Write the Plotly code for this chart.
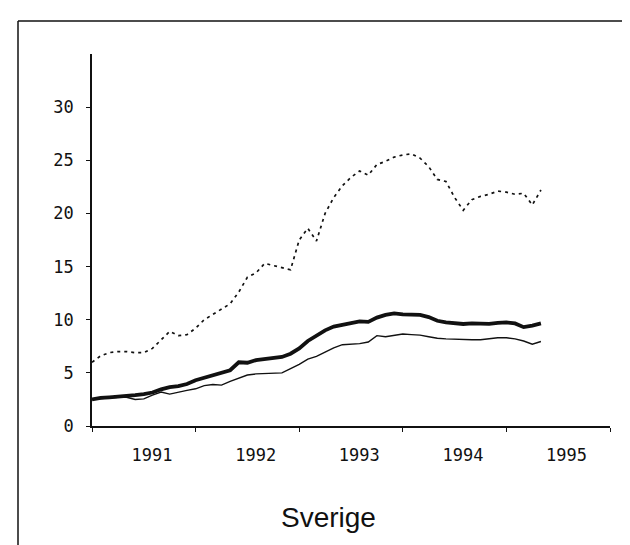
import plotly.graph_objects as go

# Monthly observations, Jan 1991 .. May 1995 (months counted from start)
months = list(range(53))
thick_series = [2.5, 2.65, 2.7, 2.75, 2.85, 2.9, 3.0, 3.15, 3.45, 3.65, 3.75, 3.95,
                4.3, 4.55, 4.8, 5.0, 5.25, 6.0, 5.95, 6.2, 6.3, 6.4, 6.5, 6.8,
                7.3, 8.0, 8.5, 9.0, 9.35, 9.5, 9.7, 9.85, 9.8, 10.2, 10.45, 10.6,
                10.5, 10.45, 10.45, 10.25, 9.9, 9.75, 9.65, 9.6, 9.65, 9.65, 9.6, 9.7,
                9.75, 9.65, 9.3, 9.45, 9.65]
thin_series = [2.5, 2.6, 2.65, 2.7, 2.7, 2.5, 2.55, 2.9, 3.2, 3.0, 3.2, 3.35,
               3.5, 3.8, 3.9, 3.85, 4.2, 4.5, 4.8, 4.9, 4.95, 4.95, 5.0, 5.4,
               5.8, 6.3, 6.55, 6.95, 7.35, 7.65, 7.7, 7.75, 7.9, 8.5, 8.4, 8.5,
               8.65, 8.6, 8.55, 8.4, 8.25, 8.2, 8.15, 8.1, 8.12, 8.12, 8.2, 8.3,
               8.3, 8.2, 8.0, 7.7, 7.95]
dotted_series = [6.0, 6.6, 6.9, 7.0, 7.0, 6.9, 6.9, 7.3, 8.1, 8.9, 8.5, 8.6,
                 9.2, 10.0, 10.5, 11.0, 11.5, 12.6, 14.0, 14.4, 15.3, 15.1, 14.9, 14.7,
                 17.5, 18.6, 17.4, 20.0, 21.5, 22.6, 23.4, 24.0, 23.6, 24.6, 24.9, 25.3,
                 25.5, 25.6, 25.2, 24.4, 23.2, 23.0, 21.5, 20.3, 21.3, 21.6, 21.8, 22.1,
                 22.0, 21.8, 21.9, 20.8, 22.2]
start_year = 1991
year_labels = ["1991", "1992", "1993", "1994", "1995"]
y_ticks = [0, 5, 10, 15, 20, 25, 30]
title_text = "Sverige"

x = [start_year + m / 12 for m in months]
years = [start_year + i for i in range(len(year_labels))]

fig = go.Figure()
fig.add_trace(go.Scatter(x=x, y=dotted_series, mode="lines",
                         line=dict(color="#111", width=1.7, dash="3px,4px"), showlegend=False))
fig.add_trace(go.Scatter(x=x, y=thin_series, mode="lines",
                         line=dict(color="#111", width=1.4), showlegend=False))
fig.add_trace(go.Scatter(x=x, y=thick_series, mode="lines",
                         line=dict(color="#111", width=3.8), showlegend=False))

tick_font = dict(family="DejaVu Sans Mono", size=17, color="#111")

# plot area: x 84..602 px, y 46..418 px
fig.update_layout(
    width=630, height=545, autosize=False,
    margin=dict(l=84, r=28, t=46, b=127),
    paper_bgcolor="white", plot_bgcolor="white",
    xaxis=dict(range=[years[0], years[-1] + 1],
               tickvals=[yv + 0.58 for yv in years], ticktext=year_labels,
               ticks="", showgrid=False, zeroline=False,
               showline=True, linecolor="#111", linewidth=1.5,
               tickfont=tick_font, ticklabelstandoff=13,
               minor=dict(tickvals=years + [years[-1] + 1], ticks="outside",
                          ticklen=4, tickcolor="#111", tickwidth=1.3, showgrid=False)),
    yaxis=dict(range=[0, 35], tickvals=y_ticks,
               ticktext=[str(v) for v in y_ticks],
               ticks="outside", ticklen=4, tickcolor="#111", tickwidth=1.3,
               showgrid=False, zeroline=False,
               showline=True, linecolor="#111", linewidth=1.5,
               tickfont=tick_font, ticklabelstandoff=9),
    annotations=[dict(text=title_text, xref="paper", yref="paper",
                      x=(320 - 84) / 518, y=(418 - 509) / 372,
                      xanchor="center", yanchor="middle", showarrow=False,
                      font=dict(family="Liberation Sans", size=28, color="#111"))],
    shapes=[
        dict(type="line", xref="paper", yref="paper",
             x0=(10 - 84) / 518, x1=(640 - 84) / 518,
             y0=(418 - 13) / 372, y1=(418 - 13) / 372,
             line=dict(color="#111", width=1.5)),
        dict(type="line", xref="paper", yref="paper",
             x0=(10 - 84) / 518, x1=(10 - 84) / 518,
             y0=(418 - 13) / 372, y1=(418 - 560) / 372,
             line=dict(color="#111", width=1.5)),
    ],
)

fig.write_html("out.html")
